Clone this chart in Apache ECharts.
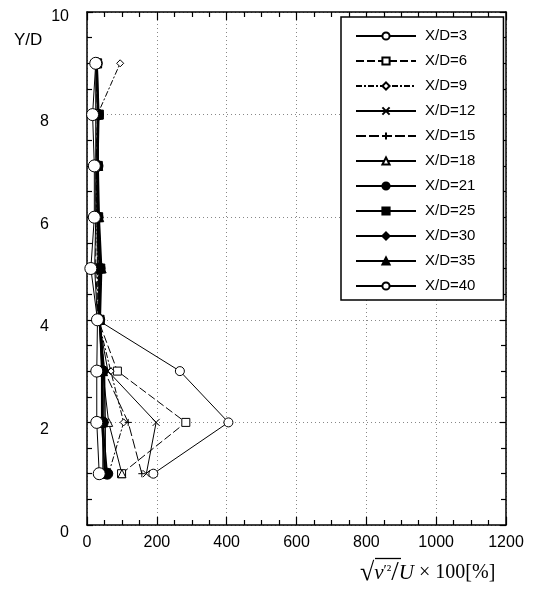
<!DOCTYPE html>
<html>
<head>
<meta charset="utf-8">
<script src="https://cdn.jsdelivr.net/npm/echarts@6/dist/echarts.min.js"></script>
<style>
html,body{margin:0;padding:0;background:#fff;}
#chart{width:534px;height:589px;}
</style>
</head>
<body>
<div id="chart"></div>
<script>
// Y/D levels (rows)
var yLevels = [1, 2, 3, 4, 5, 6, 7, 8, 9];
// sqrt(v'^2)/U x 100 [%] at each Y/D level, per X/D station
var seriesNames = ['X/D=3','X/D=6','X/D=9','X/D=12','X/D=15','X/D=18','X/D=21','X/D=25','X/D=30','X/D=35','X/D=40'];
var xd3  = [190, 405, 266, 30, 22, 25, 25, 25, 25];
var xd6  = [99, 283, 87, 32, 25, 26, 26, 30, 26];
var xd9  = [62, 105, 68, 32, 30, 28, 28, 30, 95];
var xd12 = [170, 198, 60, 33, 32, 29, 28, 30, 28];
var xd15 = [157, 118, 50, 35, 33, 29, 28, 30, 28];
var xd18 = [100, 62, 45, 36, 36, 30, 30, 30, 28];
var xd21 = [58, 45, 44, 35, 36, 30, 30, 31, 28];
var xd25 = [52, 42, 42, 36, 38, 32, 31, 34, 29];
var xd30 = [52, 52, 50, 36, 40, 33, 31, 31, 28];
var xd35 = [46, 46, 46, 38, 42, 35, 32, 32, 29];
var xd40 = [35, 28, 28, 30, 11, 21, 21, 16, 25];
var xTicks = [0, 200, 400, 600, 800, 1000, 1200];
var yTicks = [0, 2, 4, 6, 8, 10];

var allValues = [xd3, xd6, xd9, xd12, xd15, xd18, xd21, xd25, xd30, xd35, xd40];
var styles = [
  {symbol:'circle', size:9, fill:'#fff', lw:1, type:'solid'},
  {symbol:'rect', size:8, fill:'#fff', lw:1, type:[8,3]},
  {symbol:'diamond', size:7, fill:'#fff', lw:1, type:[6,2,2,2]},
  {symbol:'path://M0,0L10,10M10,0L0,10', size:7, fill:'#000', lw:1, type:'solid'},
  {symbol:'path://M5,0L5,10M0,5L10,5', size:7, fill:'#000', lw:1, type:[10,3]},
  {symbol:'triangle', size:8, fill:'#fff', lw:1, type:'solid'},
  {symbol:'circle', size:11, fill:'#000', lw:1.5, type:'solid'},
  {symbol:'rect', size:9, fill:'#000', lw:1.5, type:'solid'},
  {symbol:'diamond', size:7, fill:'#000', lw:1.5, type:'solid'},
  {symbol:'triangle', size:9, fill:'#000', lw:1.5, type:'solid'},
  {symbol:'circle', size:12, fill:'#fff', lw:1, type:'solid'}
];

var series = seriesNames.map(function(name, i){
  var st = styles[i];
  return {
    name: name,
    type: 'line',
    xAxisIndex: 0, yAxisIndex: 0,
    data: allValues[i].map(function(v, k){ return [v, yLevels[k]]; }),
    symbol: st.symbol,
    symbolSize: st.size,
    showSymbol: true,
    showAllSymbol: true,
    animation: false,
    lineStyle: {color:'#000', width: st.lw, type: st.type},
    itemStyle: {color: st.fill, borderColor:'#000', borderWidth:1}
  };
});

var labelFont = {fontFamily:'Liberation Sans', fontSize:16, color:'#000'};
var chart = echarts.init(document.getElementById('chart'));
chart.setOption({
  backgroundColor:'#fff',
  animation:false,
  grid:{left:87, right:28, top:12, bottom:64},
  legend:{
    orient:'vertical', left:341, top:17,
    padding:[11, 28, 6, 14],
    itemGap:9, itemWidth:60, itemHeight:9,
    borderColor:'#000', borderWidth:1.5, backgroundColor:'#fff',
    textStyle:{fontFamily:'Liberation Sans', fontSize:15, color:'#000', lineHeight:16, padding:[0,0,0,4]},
    data: seriesNames
  },
  xAxis:[{
    type:'value', min:xTicks[0], max:xTicks[xTicks.length-1], interval:200, position:'bottom',
    axisLine:{show:true, onZero:false, lineStyle:{color:'#000', width:1.5}},
    axisTick:{show:true, inside:true, length:8, lineStyle:{color:'#000', width:1.2}},
    minorTick:{show:true, splitNumber:4, length:5, lineStyle:{color:'#000', width:1.2}},
    splitLine:{show:true, lineStyle:{color:'#888', type:[1,3], width:1}},
    axisLabel:Object.assign({margin:10, formatter:function(v){ return String(v); }}, labelFont)
  },{
    type:'value', min:xTicks[0], max:xTicks[xTicks.length-1], interval:200, position:'top',
    axisLine:{show:true, onZero:false, lineStyle:{color:'#000', width:1.5}},
    axisTick:{show:true, inside:true, length:8, lineStyle:{color:'#000', width:1.2}},
    minorTick:{show:true, splitNumber:4, length:5, lineStyle:{color:'#000', width:1.2}},
    splitLine:{show:false}, axisLabel:{show:false}
  }],
  yAxis:[{
    type:'value', min:yTicks[0], max:yTicks[yTicks.length-1], interval:2, position:'left',
    axisLine:{show:true, onZero:false, lineStyle:{color:'#000', width:1.5}},
    axisTick:{show:true, inside:true, length:6, lineStyle:{color:'#000', width:1.2}},
    minorTick:{show:true, splitNumber:4, length:5, lineStyle:{color:'#000', width:1.2}},
    splitLine:{show:true, lineStyle:{color:'#888', type:[1,3], width:1}},
    axisLabel:Object.assign({
      margin:18,
      formatter:function(v){
        if (v === 10) return '{a|10}';
        if (v === 0) return '{z|0}';
        return '{b|' + v + '}';
      },
      rich:{
        a:Object.assign({padding:[10,0,0,0]}, labelFont),
        b:Object.assign({padding:[14,20,0,0]}, labelFont),
        z:Object.assign({padding:[16,0,0,0]}, labelFont)
      }
    }, labelFont)
  },{
    type:'value', min:yTicks[0], max:yTicks[yTicks.length-1], interval:2, position:'right',
    axisLine:{show:true, onZero:false, lineStyle:{color:'#000', width:1.5}},
    axisTick:{show:true, inside:true, length:6, lineStyle:{color:'#000', width:1.2}},
    minorTick:{show:true, splitNumber:4, length:5, lineStyle:{color:'#000', width:1.2}},
    splitLine:{show:false}, axisLabel:{show:false}
  }],
  graphic:[
    {type:'text', left:14, top:32, style:{text:'Y/D', fontFamily:'Liberation Sans', fontSize:17, fill:'#000'}},
    {type:'group', left:360, top:556, children:[
      {type:'text', x:0, y:2, style:{
        text:'{s|√}{v|v}{p|′²}{n|/}{u|U}{r| × 100[%]}',
        rich:{
          s:{fontFamily:'Liberation Serif', fontSize:26, fontWeight:'bold', fill:'#000'},
          v:{fontFamily:'Liberation Serif', fontSize:21, fontStyle:'italic', fill:'#000'},
          p:{fontFamily:'Liberation Serif', fontSize:15, fill:'#000', verticalAlign:'bottom', padding:[0,0,8,0]},
          n:{fontFamily:'Liberation Serif', fontSize:27, fill:'#000'},
          u:{fontFamily:'Liberation Serif', fontSize:21, fontStyle:'italic', fill:'#000'},
          r:{fontFamily:'Liberation Serif', fontSize:20, fill:'#000'}
        }
      }},
      {type:'line', shape:{x1:15, y1:1, x2:41, y2:1}, style:{stroke:'#000', lineWidth:1.3}}
    ]}
  ],
  series: series
});
</script>
</body>
</html>
